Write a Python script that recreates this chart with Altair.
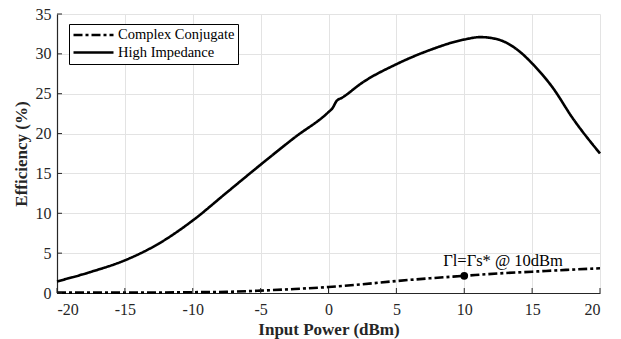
import altair as alt
import pandas as pd

# High Impedance series
hi_x = [-20, -17.5, -15, -12.5, -10, -7.5, -5, -2.5, 0, 0.3, 0.6, 1, 2.5, 5, 7.5, 10, 11.2,
        12.5, 14, 15, 16.5, 18, 20]
hi_y = [1.45, 2.65, 4.1, 6.2, 9.1, 12.6, 16.1, 19.5, 22.7, 23.2, 24.1, 24.5, 26.4, 28.7, 30.5, 31.8, 32.1,
        31.8, 30.4, 28.8, 25.8, 21.9, 17.5]

# Complex Conjugate series
cc_x = [-20, -15, -10, -7.5, -5, -2.5, 0, 2.5, 5, 7.5, 10, 12.5, 15, 17.5, 20]
cc_y = [0.05, 0.05, 0.1, 0.15, 0.3, 0.5, 0.75, 1.1, 1.5, 1.85, 2.15, 2.45, 2.67, 2.9, 3.1]

series_names = ["Complex Conjugate", "High Impedance"]

marker_x = [10]
marker_y = [2.15]
annot_x = [8.45]
annot_y = [3.4]
annot_text = ["\u0393l=\u0393s* @ 10dBm"]

x_ticks = [-20, -15, -10, -5, 0, 5, 10, 15, 20]
y_ticks = [0, 5, 10, 15, 20, 25, 30, 35]

FONT = "Liberation Serif"
AX = "#262626"

df = pd.concat([
    pd.DataFrame({"x": cc_x, "y": cc_y, "s": series_names[0]}),
    pd.DataFrame({"x": hi_x, "y": hi_y, "s": series_names[1]}),
])

xs = alt.Scale(domain=[-20, 20], nice=False)
ys = alt.Scale(domain=[0, 35], nice=False)

xaxis = alt.Axis(values=x_ticks, title="Input Power (dBm)", grid=True, ticks=False,
                 labelExpr="'' + datum.value", labelPadding=8, titlePadding=4)
yaxis = alt.Axis(values=y_ticks, title="Efficiency (%)", grid=True, ticks=False,
                 labelExpr="'' + datum.value", labelPadding=6, titlePadding=5)

X = lambda f: alt.X(f, scale=xs, axis=xaxis)
Y = lambda f: alt.Y(f, scale=ys, axis=yaxis)

lines = alt.Chart(df).mark_line(strokeWidth=2.6, color="black", interpolate="monotone").encode(
    x=X("x:Q"),
    y=Y("y:Q"),
    strokeDash=alt.StrokeDash("s:N", scale=alt.Scale(domain=series_names, range=[[9, 3, 3, 3], [1, 0]]),
                              legend=alt.Legend(title=None, orient="none", legendX=12, legendY=10,
                                                strokeColor="black", fillColor="white", padding=3,
                                                symbolType="stroke", symbolStrokeWidth=2.6,
                                                symbolSize=1600, symbolStrokeColor="black",
                                                clipHeight=16,
                                                labelFont=FONT, labelFontSize=14.5, labelColor="black",
                                                rowPadding=1.5, labelOffset=3, cornerRadius=0)),
    detail="s:N",
)

marker = alt.Chart(pd.DataFrame({"x": marker_x, "y": marker_y})).mark_point(
    filled=True, color="black", size=60, opacity=1).encode(x=X("x:Q"), y=Y("y:Q"))

annot = alt.Chart(pd.DataFrame({"x": annot_x, "y": annot_y, "t": annot_text})).mark_text(
    align="left", baseline="alphabetic", font=FONT, fontSize=16.5, color="black").encode(
    x=X("x:Q"), y=Y("y:Q"), text="t:N")

xt = alt.Chart(pd.DataFrame({"x": x_ticks})).mark_rule(color=AX, strokeWidth=1).encode(
    x=X("x:Q"), y=alt.value(279), y2=alt.value(274))
yt = alt.Chart(pd.DataFrame({"y": y_ticks})).mark_rule(color=AX, strokeWidth=1).encode(
    y=Y("y:Q"), x=alt.value(0), x2=alt.value(5))

chart = alt.layer(lines, marker, annot, xt, yt).properties(
    width=543, height=279,
    background="white",
    autosize=alt.AutoSizeParams(type="none"),
    padding={"left": 57, "top": 14, "right": 21, "bottom": 46},
).configure_view(stroke=None).configure_axis(
    labelFont=FONT, labelFontSize=16, labelColor=AX, titleFont=FONT, titleFontSize=17,
    titleFontWeight="bold", titleColor=AX, gridColor="#e3e3e3", gridWidth=1,
    domainColor=AX, domainWidth=1.2,
)

chart.save("out.html", embed_options={"renderer": "svg", "actions": False})
